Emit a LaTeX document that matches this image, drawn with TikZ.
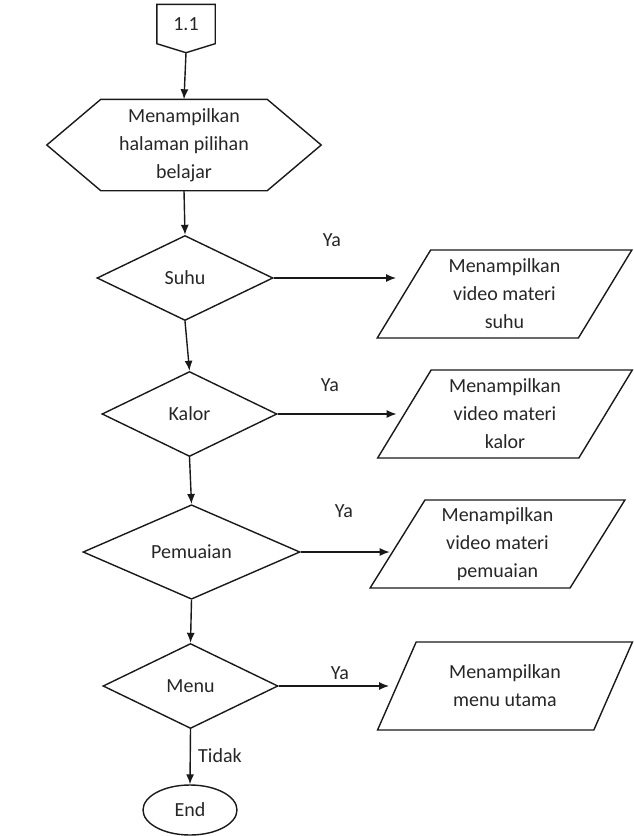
\documentclass[tikz,border=0pt]{standalone}
\usepackage{fontspec}
\setmainfont{Carlito}
\usetikzlibrary{shapes.geometric,arrows.meta}

\begin{document}
\begin{tikzpicture}[
x=1pt,
y=-1pt,
line width=1.4pt,
draw=black!90,
every node/.style={%
font=\fontsize{20}{28}\selectfont,
text=black!85,
},
body/.style={%
rectangle,
inner sep=0pt,
align=center,
},
dec/.style={%
draw,
diamond,
minimum height=85pt,
inner sep=0pt,
},
par/.style={%
draw,
trapezium,
trapezium left angle=60,
trapezium right angle=120,
trapezium stretches=true,
minimum width=255pt,
minimum height=88pt,
inner sep=0pt,
align=center,
},
term/.style={%
draw,
ellipse,
minimum width=94pt,
minimum height=50pt,
inner sep=0pt,
},
arr/.style={%
arrows=-{Latex[length=10pt,width=8pt]},
},
]
\useasboundingbox (0,0) rectangle (633,836);
%% Start connector
\node[body, minimum width=57pt, minimum height=38pt]at(186,24)(start){1.1};
\coordinate(start_tip)at([yshift=-9pt]start.south);
\draw(start.south west)--(start.north west)--(start.north east)--(start.south east)--(start_tip)--cycle;
%% Hexagon
\node[body, minimum width=165pt, minimum height=90pt]at(184,145)(hex){Menampilkan\\halaman pilihan\\belajar};
\draw(hex.north west)--(hex.north east)--([xshift=54pt]hex.east)--(hex.south east)--(hex.south west)--([xshift=-54pt]hex.west)--cycle;
\draw[arr](start_tip)--(hex.north);
%% Decisions and outputs
\foreach \n/\x/\y/\w/\t/\px/\py/\o/\lx/\ly in{%
1/185/278/176/Suhu/504.5/294/{video materi\\suhu}/332/240,
2/189.5/414/175/Kalor/505/414/{video materi\\kalor}/330/385,
3/191.5/552/217/Pemuaian/497.5/544/{video materi\\pemuaian}/344/511,
4/190.5/686/175/Menu/505/686/{menu utama}/340/673}{%
\node[dec, minimum width=\w pt]at(\x,\y)(d_\n){\t};
\node[par]at(\px,\py)(p_\n){Menampilkan\\\o};
\node at(\lx,\ly)(ya_\n){Ya};
\draw[arr, shorten >=7pt](d_\n.east)--(d_\n.east -| p_\n.west);
}
%% Flow down
\draw[arr](hex.south)--(d_1.north);
\draw[arr](d_1.south)--(d_2.north);
\draw[arr](d_2.south)--(d_3.north);
\draw[arr](d_3.south)--(d_4.north);
\node[term]at(190,810)(end){End};
\draw[arr](d_4.south)--(end.north);
\node at(220,756)(no){Tidak};
\end{tikzpicture}
\end{document}
